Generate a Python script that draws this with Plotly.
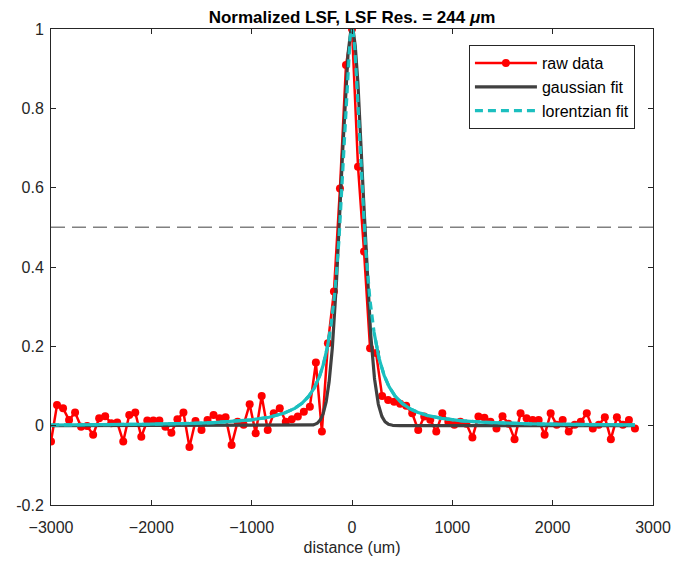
import numpy as np
import plotly.graph_objects as go

# ---- data ----
sample_step = 60          # um between raw samples
first_sample = -3000      # um
raw_values = [
    -0.040, 0.052, 0.044, 0.014, 0.033, -0.003, -0.001, -0.023, 0.019, 0.024,
    0.006, 0.008, -0.040, 0.027, 0.033, -0.028, 0.013, 0.013, 0.013, -0.003,
    -0.018, 0.016, 0.033, -0.054,
    0.012, -0.011, 0.014, 0.027, 0.019, 0.021, -0.049, 0.010, 0.002, 0.054,
    -0.019, 0.075, -0.011, 0.031, 0.044, 0.010, 0.016, 0.023, 0.035, 0.048,
    0.159, -0.015, 0.208, 0.338, 0.598, 0.909,
    1.000,
    0.653, 0.439, 0.195, 0.183, 0.075, 0.065, 0.060, 0.055, 0.050, 0.031,
    -0.011, 0.023, 0.015, -0.015, 0.031, 0.010, 0.002, 0.010, 0.005, -0.030,
    0.023, 0.020, 0.010, -0.007, 0.024, 0.005, -0.034, 0.031, 0.019, 0.014,
    0.014, -0.023, 0.031, 0.002, 0.014, -0.015, 0.002, 0.010, 0.031, -0.007,
    0.002, 0.021, -0.034, 0.021, 0.002, 0.014, -0.007,
]
distance = [first_sample + sample_step * i for i in range(len(raw_values))]

# fit parameters
gauss_amp = 1.0
gauss_center = 0.0
gauss_fwhm = 256.0
lor_amp = 1.0
lor_center = 0.0
lor_fwhm = 244.0
half_max = 0.5

x_tick_vals = [-3000, -2000, -1000, 0, 1000, 2000, 3000]
y_tick_vals = [-0.2, 0, 0.2, 0.4, 0.6, 0.8, 1]
y_tick_text = ["-0.2", "0", "0.2", "0.4", "0.6", "0.8", "1"]

# ---- fit curves ----
x_fit = np.linspace(distance[0], distance[-1], 3000)
gauss = gauss_amp * np.exp(-4 * np.log(2) * (x_fit - gauss_center) ** 2 / gauss_fwhm ** 2)
lor = lor_amp / (1 + (2 * (x_fit - lor_center) / lor_fwhm) ** 2)
lor_tail = np.where(np.abs(x_fit) > 220, lor, np.nan)

FONT = "Liberation Sans, Arial, sans-serif"
AX = "#262626"
CYAN = "#1CBFBF"

fig = go.Figure()
fig.add_trace(go.Scatter(
    x=distance, y=raw_values, mode="lines+markers", name="raw data",
    line=dict(color="#FF0000", width=2.5),
    marker=dict(symbol="circle", size=8, color="#FF0000"),
))
fig.add_trace(go.Scatter(
    x=x_fit, y=gauss, mode="lines", name="gaussian fit",
    line=dict(color="#404040", width=3.2),
))
fig.add_trace(go.Scatter(
    x=x_fit, y=lor_tail, mode="lines", showlegend=False, hoverinfo="skip",
    line=dict(color=CYAN, width=3.2),
))
fig.add_trace(go.Scatter(
    x=x_fit, y=lor, mode="lines", name="lorentzian fit",
    line=dict(color=CYAN, width=3.2, dash="8px,5px"),
))

fig.add_shape(type="line", xref="paper", x0=0, x1=1, yref="y", y0=half_max, y1=half_max,
              line=dict(color="#808080", width=1.5, dash="14px,7px"), layer="below")

fig.update_layout(
    width=673, height=563,
    margin=dict(l=51, r=20, t=29, b=58),
    paper_bgcolor="white", plot_bgcolor="white",
    font=dict(family=FONT, size=16, color=AX),
    title=dict(text="<b>Normalized LSF, LSF Res. = 244 <i>μ</i>m</b>",
               x=0.5, xanchor="center", xref="paper", y=1 - 17 / 563, yanchor="middle",
               font=dict(family=FONT, size=17, color="#000000")),
    showlegend=True,
    legend=dict(x=0.970, y=0.966, xanchor="right", yanchor="top",
                bgcolor="white", bordercolor="#262626", borderwidth=1,
                font=dict(family=FONT, size=16, color="#000000"),
                tracegroupgap=0, itemwidth=62),
)
fig.update_xaxes(range=[-3000, 3000], tickvals=x_tick_vals, ticks="inside", ticklen=5,
                 tickcolor=AX, showline=True, linecolor=AX, linewidth=1, mirror="ticks",
                 showgrid=False, zeroline=False, ticklabelstandoff=8, automargin=False,
                 title=dict(text="distance (um)", standoff=6, font=dict(size=16, color=AX)),
                 tickfont=dict(size=16, color=AX))
fig.update_yaxes(range=[-0.2, 1], tickvals=y_tick_vals, ticktext=y_tick_text, ticks="inside",
                 ticklen=5, tickcolor=AX, showline=True, linecolor=AX, linewidth=1,
                 mirror="ticks", showgrid=False, zeroline=False, ticklabelstandoff=3,
                 automargin=False, tickfont=dict(size=16, color=AX))

fig.write_html("out.html", config={"displayModeBar": False},
               post_script="document.body.style.margin='0';")
